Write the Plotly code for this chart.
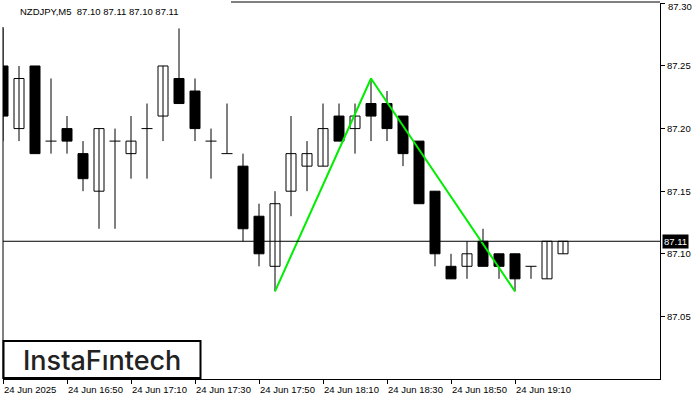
import plotly.graph_objects as go

# ---- data ----
tick_idx = [0, 4, 8, 12, 16, 20, 24, 28, 32]
tick_labels = ["24 Jun 2025", "24 Jun 16:50", "24 Jun 17:10", "24 Jun 17:30", "24 Jun 17:50",
               "24 Jun 18:10", "24 Jun 18:30", "24 Jun 18:50", "24 Jun 19:10"]
opens = [87.25, 87.20, 87.25, 87.19, 87.20, 87.18, 87.15, 87.19, 87.18, 87.20, 87.21, 87.24,
         87.23, 87.19, 87.18, 87.17, 87.13, 87.09, 87.15, 87.17, 87.17, 87.21, 87.20, 87.22,
         87.22, 87.21, 87.19, 87.15, 87.09, 87.09, 87.11, 87.10, 87.10, 87.09, 87.08, 87.10]
highs = [87.28, 87.25, 87.25, 87.24, 87.21, 87.19, 87.20, 87.20, 87.21, 87.22, 87.25, 87.28,
         87.24, 87.20, 87.22, 87.18, 87.14, 87.15, 87.21, 87.19, 87.22, 87.22, 87.22, 87.24,
         87.23, 87.21, 87.19, 87.15, 87.10, 87.11, 87.12, 87.10, 87.10, 87.09, 87.11, 87.11]
lows = [87.19, 87.19, 87.18, 87.18, 87.18, 87.15, 87.12, 87.12, 87.16, 87.16, 87.19, 87.22,
        87.19, 87.16, 87.18, 87.11, 87.09, 87.07, 87.13, 87.15, 87.17, 87.19, 87.18, 87.19,
        87.19, 87.17, 87.14, 87.09, 87.08, 87.08, 87.09, 87.08, 87.07, 87.08, 87.08, 87.10]
closes = [87.21, 87.24, 87.18, 87.19, 87.19, 87.16, 87.20, 87.19, 87.19, 87.20, 87.25, 87.22,
          87.20, 87.19, 87.18, 87.12, 87.10, 87.14, 87.18, 87.18, 87.20, 87.19, 87.21, 87.21,
          87.20, 87.18, 87.14, 87.10, 87.08, 87.10, 87.09, 87.09, 87.08, 87.09, 87.11, 87.11]
pattern_idx = [17, 23, 32]
pattern_price = [87.07, 87.24, 87.07]
bid = 87.11
y_ticks = [87.05, 87.10, 87.15, 87.20, 87.25, 87.30]
header = "NZDJPY,M5\u00a0\u00a087.10 87.11 87.10 87.11"

# ---- geometry ----
W, H = 700, 400
L, R, T, B = 3, 660, 3, 379
PX = 16.0  # pixels per candle
n = len(opens)
idx = list(range(n))

def px(xp):
    return (xp - L) / (R - L)

def py(yp):
    return (B - yp) / (B - T)

fig = go.Figure()

# wicks
wx, wy = [], []
for k in idx:
    wx += [k, k, None]
    wy += [lows[k], highs[k], None]
fig.add_trace(go.Scatter(x=wx, y=wy, mode="lines", line=dict(color="black", width=1),
                         hoverinfo="skip", showlegend=False))

bw = 10 / PX
bull = [k for k in idx if round(closes[k] - opens[k], 4) > 0]
bear = [k for k in idx if round(closes[k] - opens[k], 4) < 0]
doji = [k for k in idx if round(closes[k] - opens[k], 4) == 0]

fig.add_trace(go.Bar(x=bull, y=[closes[k] - opens[k] for k in bull], base=[opens[k] for k in bull],
                     width=bw, marker=dict(color="white", line=dict(color="black", width=1)),
                     showlegend=False, hoverinfo="skip"))
fig.add_trace(go.Bar(x=bear, y=[opens[k] - closes[k] for k in bear], base=[closes[k] for k in bear],
                     width=bw, marker=dict(color="black", line=dict(color="black", width=1)),
                     showlegend=False, hoverinfo="skip"))
dx, dy = [], []
for k in doji:
    dx += [k - 5.5 / PX, k + 5.5 / PX, None]
    dy += [opens[k], opens[k], None]
fig.add_trace(go.Scatter(x=dx, y=dy, mode="lines", line=dict(color="black", width=1),
                         hoverinfo="skip", showlegend=False))

# pattern lines
fig.add_trace(go.Scatter(x=pattern_idx, y=pattern_price, mode="lines",
                         line=dict(color="#00ee00", width=2), hoverinfo="skip", showlegend=False))

shapes = [
    dict(type="line", xref="paper", yref="y", x0=0, x1=1, y0=bid, y1=bid,
         line=dict(color="black", width=1)),
    dict(type="line", xref="paper", yref="paper", x0=0, x1=0, y0=0, y1=1,
         line=dict(color="black", width=1)),
    dict(type="line", xref="paper", yref="paper", x0=0, x1=1, y0=py(2), y1=py(2),
         line=dict(color="black", width=1)),
    dict(type="rect", xref="paper", yref="paper", x0=px(-2), x1=px(231), y0=py(27), y1=py(-2),
         fillcolor="white", line=dict(width=0)),
    # logo box
    dict(type="rect", xref="paper", yref="paper", x0=px(3.5), x1=px(200.5), y0=py(378), y1=py(341),
         fillcolor="white", line=dict(color="black", width=2)),
]

font = dict(family="Liberation Sans, Arial, sans-serif", size=9.5, color="black")
annotations = [
    dict(text=header, xref="paper", yref="paper", x=px(18), y=py(11), xanchor="left",
         yanchor="middle", showarrow=False, font=font),
    dict(text="InstaF\u0131ntech", xref="paper", yref="paper", x=px(101.5), y=py(360),
         xanchor="center", yanchor="middle", showarrow=False,
         font=dict(family="Inter, sans-serif", size=27, color="#222222", weight=500)),
    dict(text="87.11", xref="paper", yref="y", x=px(662), y=bid, xanchor="left",
         yanchor="middle", showarrow=False, bgcolor="black", borderpad=1,
         font=dict(family=font["family"], size=9.5, color="white")),
    # top price label, nudged down so it stays inside the page
    dict(text=f"{y_ticks[-1]:.2f}", xref="paper", yref="paper", x=px(666), y=py(7),
         xanchor="left", yanchor="middle", showarrow=False, font=font),
]
for k, lab in zip(tick_idx, tick_labels):
    annotations.append(dict(text=lab, xref="x", yref="paper", x=k, y=py(389), xanchor="left",
                            yanchor="middle", showarrow=False, xshift=-1, font=font))

fig.update_layout(
    width=W, height=H, autosize=False,
    margin=dict(l=L, r=W - R, t=T, b=H - B, pad=0, autoexpand=False),
    paper_bgcolor="white", plot_bgcolor="white",
    barmode="overlay", bargap=0,
    shapes=shapes, annotations=annotations,
    xaxis=dict(range=[0, (R - L) / PX], showgrid=False, zeroline=False,
               showline=True, linecolor="black", linewidth=1,
               tickvals=tick_idx, ticks="outside", ticklen=4, tickcolor="black",
               showticklabels=False, fixedrange=True, automargin=False),
    yaxis=dict(range=[87.0, 87.3003], side="right", showgrid=False, zeroline=False,
               showline=True, linecolor="black", linewidth=1, mirror=False,
               tickvals=y_ticks, ticktext=[f"{v:.2f}" for v in y_ticks[:-1]] + [""],
               ticks="outside", ticklen=4, tickcolor="black", tickfont=font,
               ticklabeloverflow="allow", automargin=False, fixedrange=True),
)

fig.write_html("out.html", config={"displayModeBar": False, "staticPlot": True},
               post_script="document.body.style.margin='0';")
